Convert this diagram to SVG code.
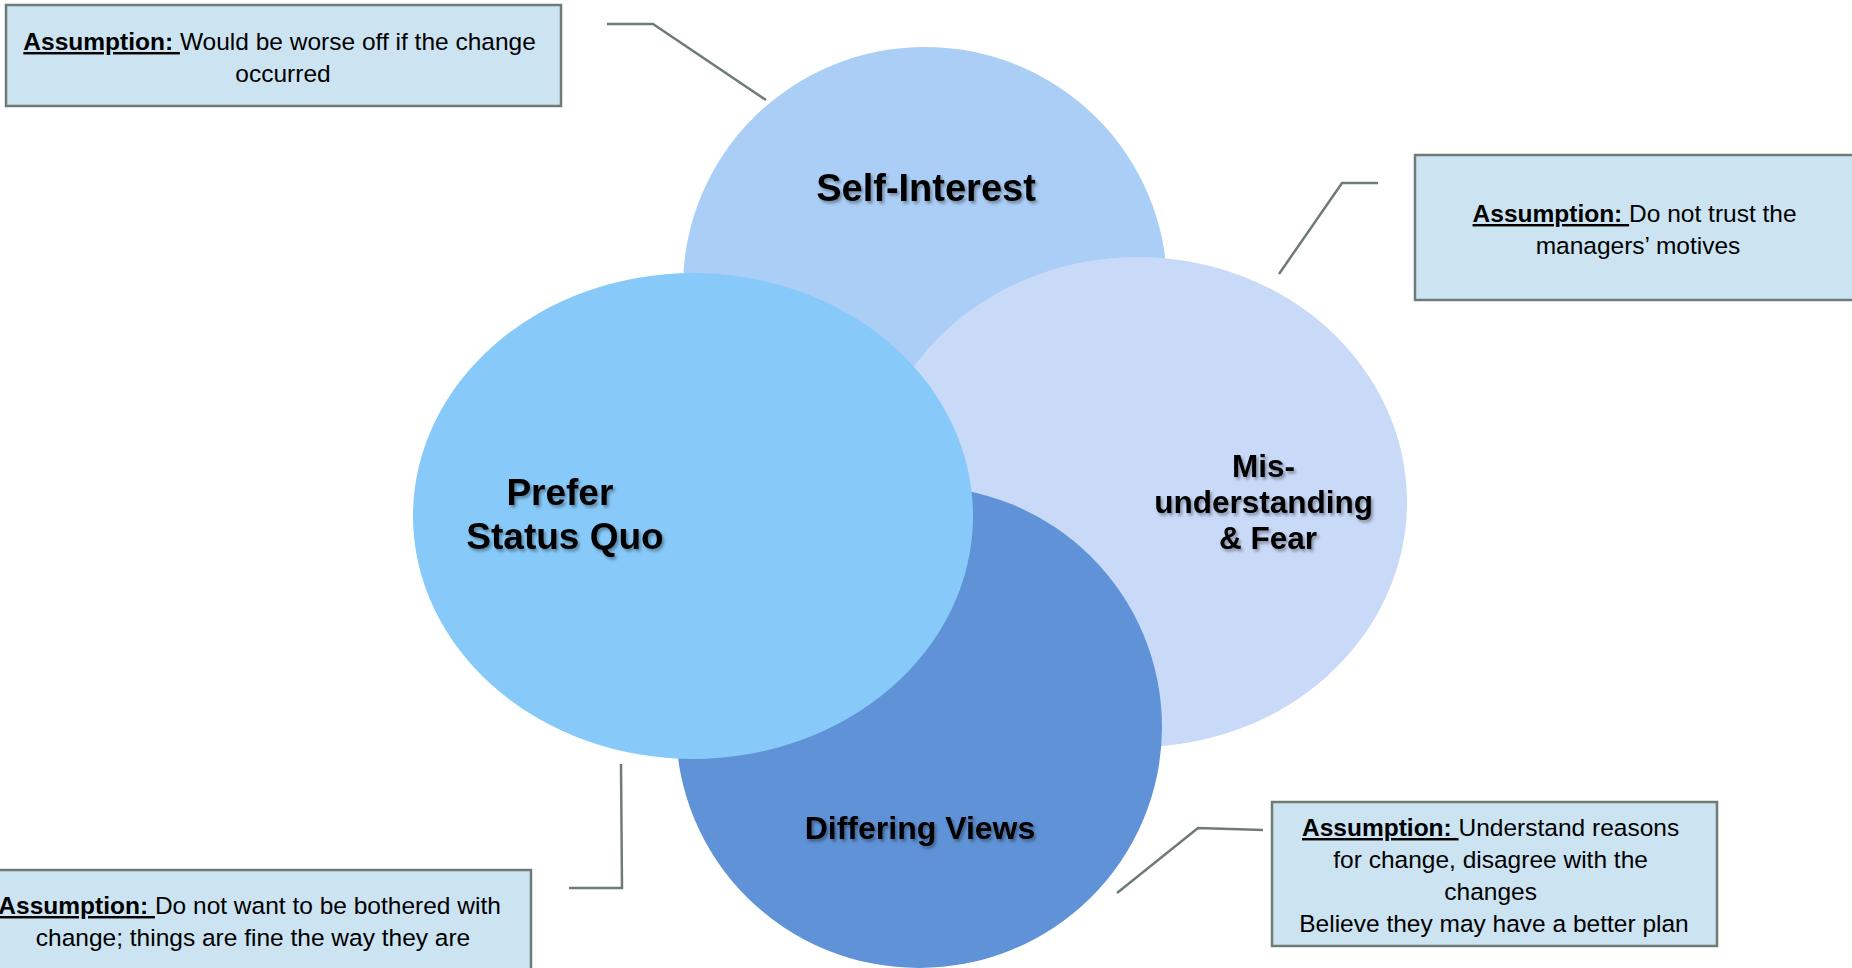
<svg xmlns="http://www.w3.org/2000/svg" width="1852" height="968" viewBox="0 0 1852 968">
  <defs>
    <filter id="textShadow" x="-10%" y="-20%" width="130%" height="160%">
      <feDropShadow dx="2" dy="2.5" stdDeviation="1.5" flood-color="#000" flood-opacity="0.35"/>
    </filter>
  </defs>
  <style>
    .box { fill: #CCE3F1; stroke: #6F7B76; stroke-width: 2.5; }
    .note { font-family: "Liberation Sans", Arial, sans-serif; font-size: 24.5px; fill: #000; text-anchor: middle; }
    .key { font-weight: bold; text-decoration: underline; }
    .label { font-family: "Liberation Sans", Arial, sans-serif; font-weight: bold; fill: #000; text-anchor: middle; filter: url(#textShadow); }
    .link { fill: none; stroke: #6F7B76; stroke-width: 2.5; }
  </style>

  <rect width="1852" height="968" fill="#FFFFFF"/>

  <!-- Overlapping ellipses, back to front -->
  <g id="self-interest">
    <ellipse cx="925" cy="287" rx="242" ry="240" fill="#ABCEF6"/>
    <text class="label" x="926" y="201" font-size="38">Self-Interest</text>
  </g>
  <g id="misunderstanding-fear">
    <ellipse cx="1138" cy="502" rx="269" ry="245" fill="#C9D9F8"/>
    <text class="label" font-size="31.5">
      <tspan x="1268" y="477">Mis-</tspan>
      <tspan x="1268" y="513">understanding</tspan>
      <tspan x="1268" y="549">&amp; Fear</tspan>
    </text>
  </g>
  <g id="differing-views">
    <ellipse cx="919" cy="727" rx="243" ry="241" fill="#5F92D6"/>
    <text class="label" x="920" y="839" font-size="32">Differing Views</text>
  </g>
  <g id="prefer-status-quo">
    <ellipse cx="693" cy="516" rx="280" ry="243" fill="#87CAFA"/>
    <text class="label" font-size="37">
      <tspan x="565" y="505">Prefer</tspan>
      <tspan x="565" y="549">Status Quo</tspan>
    </text>
  </g>

  <!-- Callout leader lines -->
  <g id="connectors">
    <polyline class="link" points="607,24 653,24 766,100"/>
    <polyline class="link" points="1378,183 1342,183 1279,274"/>
    <polyline class="link" points="621,764 622,888 569,888"/>
    <polyline class="link" points="1263,830 1198,828 1117,893"/>
  </g>

  <!-- Assumption callouts -->
  <g id="note-self-interest">
    <rect class="box" x="6" y="5" width="555" height="101"/>
    <text class="note">
      <tspan x="283" y="50"><tspan class="key">Assumption: </tspan>Would be worse off if the change</tspan>
      <tspan x="283" y="82">occurred</tspan>
    </text>
  </g>
  <g id="note-misunderstanding">
    <rect class="box" x="1415" y="155" width="450" height="145"/>
    <text class="note">
      <tspan x="1638" y="222"><tspan class="key">Assumption: </tspan>Do not trust the</tspan>
      <tspan x="1638" y="254">managers’ motives</tspan>
    </text>
  </g>
  <g id="note-status-quo">
    <rect class="box" x="-20" y="870" width="551" height="110"/>
    <text class="note">
      <tspan x="253" y="914"><tspan class="key">Assumption: </tspan>Do not want to be bothered with</tspan>
      <tspan x="253" y="946">change; things are fine the way they are</tspan>
    </text>
  </g>
  <g id="note-differing-views">
    <rect class="box" x="1272" y="802" width="445" height="144"/>
    <text class="note">
      <tspan x="1494" y="836"><tspan class="key">Assumption: </tspan>Understand reasons</tspan>
      <tspan x="1494" y="868">for change, disagree with the</tspan>
      <tspan x="1494" y="900">changes</tspan>
      <tspan x="1494" y="932">Believe they may have a better plan</tspan>
    </text>
  </g>
</svg>
